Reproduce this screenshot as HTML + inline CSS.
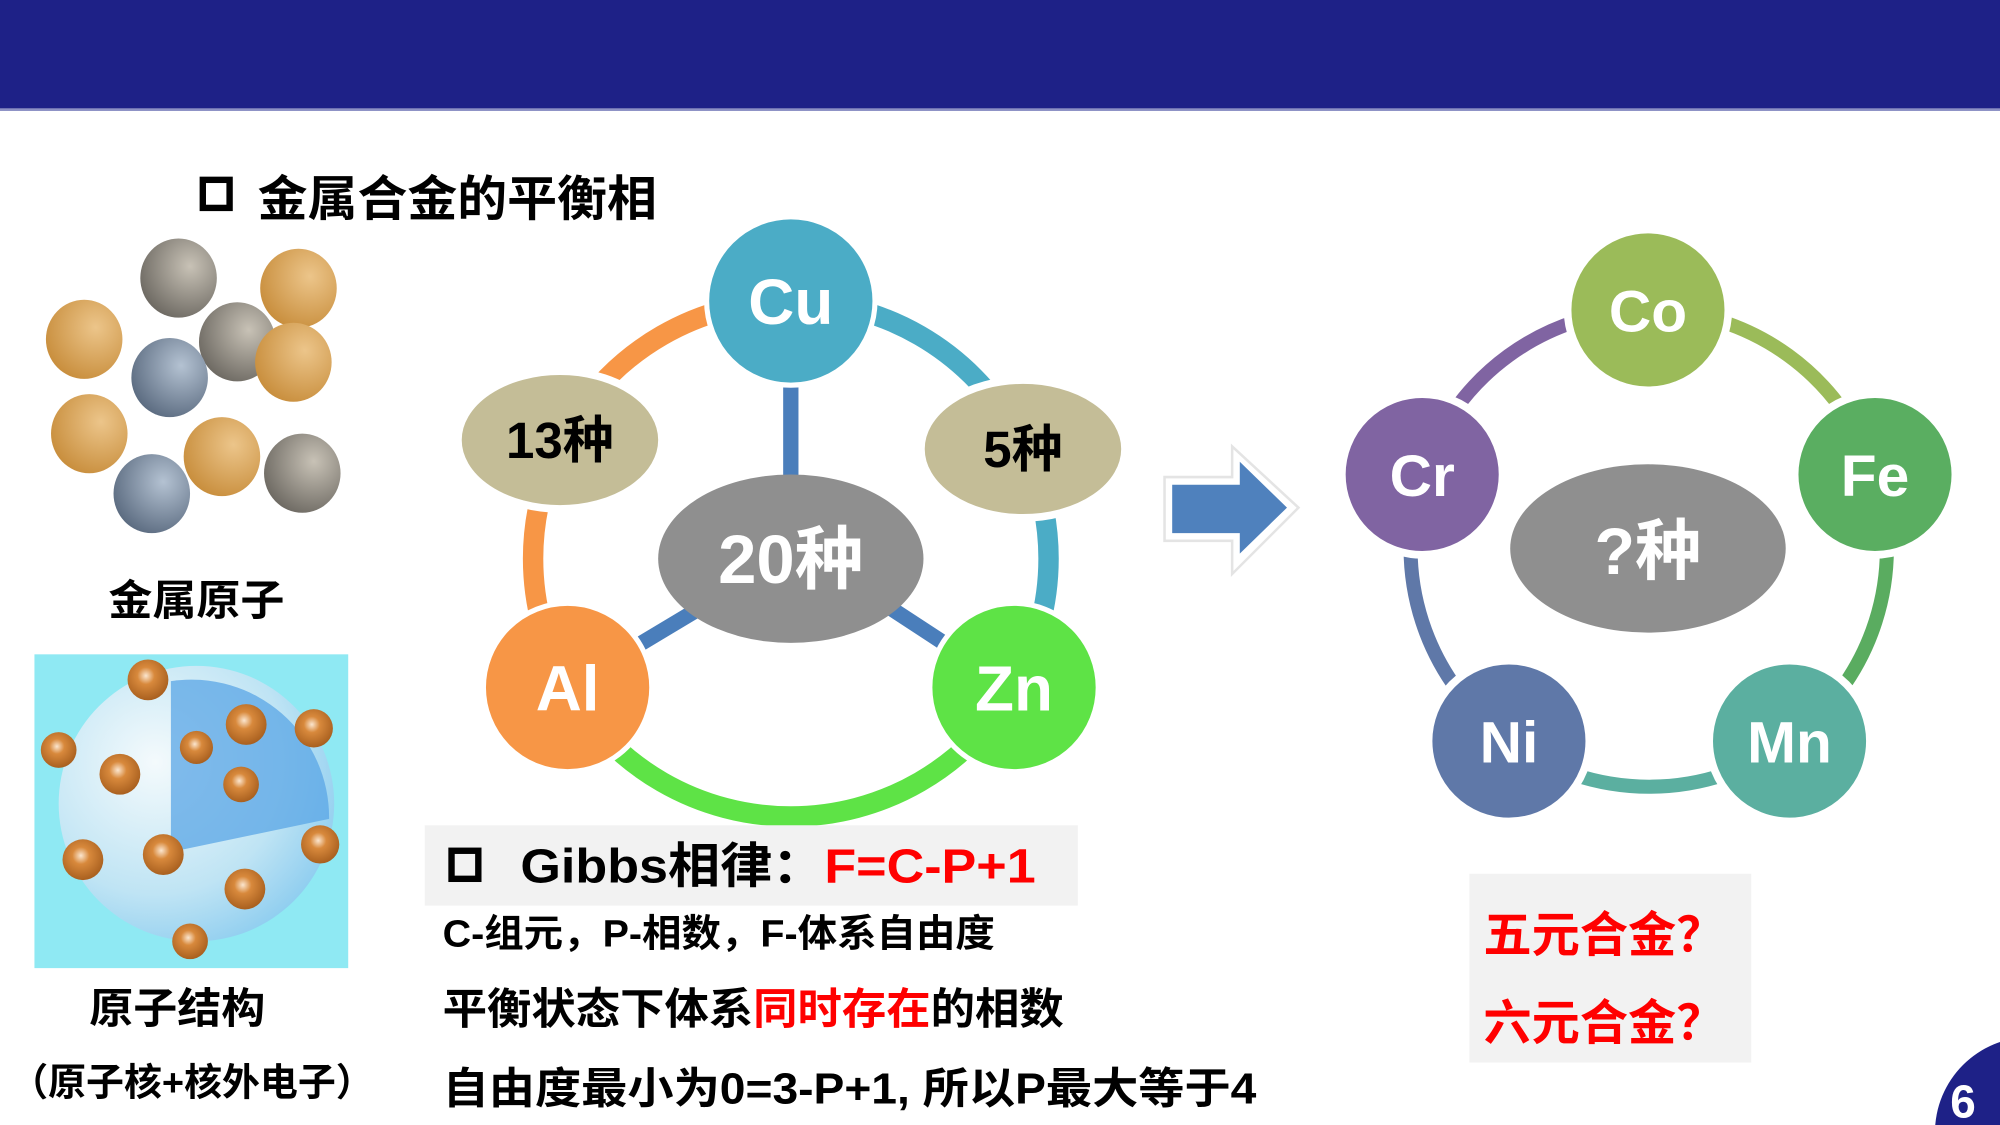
<!DOCTYPE html>
<html><head><meta charset="utf-8"><style>
html,body{margin:0;padding:0;background:#fff;width:2000px;height:1125px;overflow:hidden;}
svg{display:block;}
text{font-family:"Liberation Sans","Noto Sans CJK SC",sans-serif;font-weight:bold;}
</style></head><body>
<svg width="2000" height="1125" viewBox="0 0 1568 882" preserveAspectRatio="none" xmlns="http://www.w3.org/2000/svg">
<defs>
<radialGradient id="go" cx="0.65" cy="0.35" r="0.7"><stop offset="0" stop-color="#ecc58a"/><stop offset="1" stop-color="#c98f3e"/></radialGradient>
<radialGradient id="gg" cx="0.65" cy="0.35" r="0.7"><stop offset="0" stop-color="#c8c2b6"/><stop offset="1" stop-color="#6f6b64"/></radialGradient>
<radialGradient id="gb" cx="0.65" cy="0.35" r="0.7"><stop offset="0" stop-color="#b4c2d2"/><stop offset="1" stop-color="#5d6d82"/></radialGradient>
<radialGradient id="sp" cx="0.35" cy="0.35" r="0.8"><stop offset="0" stop-color="#f4fafc"/><stop offset="0.6" stop-color="#bfe4f4"/><stop offset="1" stop-color="#7fc6ee"/></radialGradient>
<radialGradient id="ed" cx="0.45" cy="0.4" r="0.6"><stop offset="0" stop-color="#fbe6cf"/><stop offset="0.35" stop-color="#d8893c"/><stop offset="1" stop-color="#a9601f"/></radialGradient>
</defs>
<rect x="0" y="0" width="1568" height="85" fill="#1e2187"/>
<rect x="0" y="85" width="1568" height="2" fill="#8c90c4"/>

<rect x="159" y="141" width="21" height="22" fill="none" stroke="#000" stroke-width="5"/>
<text x="202" y="169" font-size="38" fill="#000" textLength="313" lengthAdjust="spacingAndGlyphs">金属合金的平衡相</text>

<!-- atoms -->
<ellipse cx="140" cy="218" rx="30" ry="31" fill="url(#gg)"/>
<ellipse cx="234" cy="226" rx="30" ry="31" fill="url(#go)"/>
<ellipse cx="66" cy="266" rx="30" ry="31" fill="url(#go)"/>
<ellipse cx="186" cy="268" rx="30" ry="31" fill="url(#gg)"/>
<ellipse cx="230" cy="284" rx="30" ry="31" fill="url(#go)"/>
<ellipse cx="133" cy="296" rx="30" ry="31" fill="url(#gb)"/>
<ellipse cx="70" cy="340" rx="30" ry="31" fill="url(#go)"/>
<ellipse cx="174" cy="358" rx="30" ry="31" fill="url(#go)"/>
<ellipse cx="237" cy="371" rx="30" ry="31" fill="url(#gg)"/>
<ellipse cx="119" cy="387" rx="30" ry="31" fill="url(#gb)"/>
<text x="85" y="482" font-size="33" fill="#000" textLength="138" lengthAdjust="spacingAndGlyphs">金属原子</text>

<!-- atom structure -->
<rect x="27" y="513" width="246" height="246" fill="#8fe9f3"/>
<circle cx="154" cy="630" r="108" fill="url(#sp)"/>
<path d="M134,668 L134,534 A108,108 0 0 1 258,642 Z" fill="#5aa6e6" opacity="0.75"/>
<g fill="url(#ed)">
<circle cx="116" cy="533" r="16"/><circle cx="246" cy="571" r="15"/><circle cx="46" cy="588" r="14"/>
<circle cx="193" cy="568" r="16"/><circle cx="154" cy="586" r="13"/><circle cx="94" cy="607" r="16"/>
<circle cx="189" cy="615" r="14"/><circle cx="251" cy="662" r="15"/><circle cx="65" cy="674" r="16"/>
<circle cx="128" cy="670" r="16"/><circle cx="192" cy="697" r="16"/><circle cx="149" cy="738" r="14"/>
</g>
<text x="70" y="802" font-size="33" fill="#000" textLength="138" lengthAdjust="spacingAndGlyphs">原子结构</text>
<text x="8" y="859" font-size="30" fill="#000" textLength="285" lengthAdjust="spacingAndGlyphs">（原子核+核外电子）</text>

<!-- left ring -->
<g fill="none" stroke-width="16">
<path d="M620,236 A202,202 0 0 1 795,539" stroke="#4bacc6"/>
<path d="M795,539 A202,202 0 0 1 445,539" stroke="#5ee346"/>
<path d="M445,539 A202,202 0 0 1 620,236" stroke="#f79646"/>
</g>
<g stroke="#4a7ebb" stroke-width="12">
<line x1="620" y1="290" x2="620" y2="380"/>
<line x1="490" y1="512" x2="550" y2="476"/>
<line x1="694" y1="474" x2="752" y2="512"/>
</g>
<ellipse cx="439" cy="345" rx="80" ry="54" fill="#c4bd97" stroke="#fff" stroke-width="6"/>
<ellipse cx="802" cy="352" rx="80" ry="54" fill="#c4bd97" stroke="#fff" stroke-width="6"/>
<ellipse cx="620" cy="438" rx="104" ry="66" fill="#8f8f8f"/>
<circle cx="620" cy="236" r="66" fill="#4bacc6" stroke="#fff" stroke-width="4"/>
<circle cx="445" cy="539" r="66" fill="#f79646" stroke="#fff" stroke-width="4"/>
<circle cx="795" cy="539" r="66" fill="#5ee346" stroke="#fff" stroke-width="4"/>
<text x="439" y="359" font-size="40" fill="#000" text-anchor="middle">13种</text>
<text x="802" y="366" font-size="40" fill="#000" text-anchor="middle">5种</text>
<text x="620" y="457" font-size="54" fill="#fff" text-anchor="middle">20种</text>
<text x="620" y="254" font-size="50" fill="#fff" text-anchor="middle">Cu</text>
<text x="445" y="557" font-size="50" fill="#fff" text-anchor="middle">Al</text>
<text x="795" y="557" font-size="50" fill="#fff" text-anchor="middle">Zn</text>

<!-- arrow -->
<path d="M913,374 L966,374 L966,350 L1018,398 L966,450 L966,424 L913,424 Z" fill="#fff" stroke="#e4e4e4" stroke-width="2"/>
<path d="M919,380 L972,380 L972,362 L1009,398 L972,434 L972,418 L919,418 Z" fill="#4f81bd"/>

<!-- right ring -->
<g fill="none" stroke-width="11">
<path d="M1292,243 A187,187 0 0 1 1470,372" stroke="#9bbb59"/>
<path d="M1470,372 A187,187 0 0 1 1403,581" stroke="#5aac60"/>
<path d="M1403,581 A187,187 0 0 1 1183,581" stroke="#5bafa0"/>
<path d="M1183,581 A187,187 0 0 1 1115,372" stroke="#5f78a8"/>
<path d="M1115,372 A187,187 0 0 1 1292,243" stroke="#8064a2"/>
</g>
<circle cx="1292" cy="243" r="63" fill="#9bbb59" stroke="#fff" stroke-width="6"/>
<circle cx="1470" cy="372" r="63" fill="#5aae61" stroke="#fff" stroke-width="6"/>
<circle cx="1403" cy="581" r="63" fill="#5bafa0" stroke="#fff" stroke-width="6"/>
<circle cx="1183" cy="581" r="63" fill="#5f78a8" stroke="#fff" stroke-width="6"/>
<circle cx="1115" cy="372" r="63" fill="#8064a2" stroke="#fff" stroke-width="6"/>
<ellipse cx="1292" cy="430" rx="108" ry="66" fill="#8f8f8f"/>
<text x="1292" y="450" font-size="52" fill="#fff" text-anchor="middle">?种</text>
<text x="1292" y="260" font-size="46" fill="#fff" text-anchor="middle">Co</text>
<text x="1470" y="389" font-size="46" fill="#fff" text-anchor="middle">Fe</text>
<text x="1403" y="598" font-size="46" fill="#fff" text-anchor="middle">Mn</text>
<text x="1183" y="598" font-size="46" fill="#fff" text-anchor="middle">Ni</text>
<text x="1115" y="389" font-size="46" fill="#fff" text-anchor="middle">Cr</text>

<!-- Gibbs -->
<rect x="333" y="647" width="512" height="63" fill="#f2f2f2"/>
<rect x="354" y="667" width="21" height="22" fill="none" stroke="#000" stroke-width="5"/>
<text x="408" y="692" font-size="38" fill="#000" textLength="404" lengthAdjust="spacingAndGlyphs">Gibbs相律：<tspan fill="#ff0000">F=C-P+1</tspan></text>
<text x="347" y="742" font-size="30" fill="#000" textLength="433" lengthAdjust="spacingAndGlyphs">C-组元，P-相数，F-体系自由度</text>
<text x="347" y="803" font-size="34" fill="#000" textLength="487" lengthAdjust="spacingAndGlyphs">平衡状态下体系<tspan fill="#ff0000">同时存在</tspan>的相数</text>
<text x="347" y="865" font-size="34" fill="#000" textLength="638" lengthAdjust="spacingAndGlyphs">自由度最小为0=3-P+1, 所以P最大等于4</text>

<rect x="1152" y="685" width="221" height="148" fill="#f2f2f2"/>
<text x="1163" y="746" font-size="38" fill="#ff0000" textLength="189" lengthAdjust="spacingAndGlyphs">五元合金？</text>
<text x="1163" y="815" font-size="38" fill="#ff0000" textLength="189" lengthAdjust="spacingAndGlyphs">六元合金？</text>

<circle cx="1592" cy="888" r="75" fill="#1e2187"/>
<text x="1539" y="876" font-size="36" fill="#fff" text-anchor="middle">6</text>
</svg>
</body></html>
